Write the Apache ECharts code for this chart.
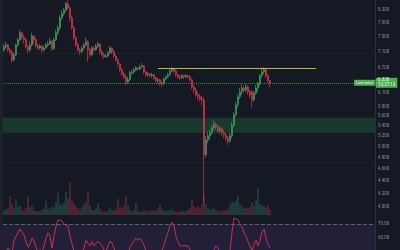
<!DOCTYPE html>
<html><head><meta charset="utf-8">
<script src="https://cdn.jsdelivr.net/npm/echarts@6/dist/echarts.min.js"></script>
<style>html,body{margin:0;padding:0;background:#151924;}#c{width:400px;height:250px;}</style>
</head><body><div id="c"></div>
<script>
// [open, close, low, high]
const ohlc = [
[7.15,7.23,7.10,7.31],[7.23,7.28,7.18,7.37],[7.28,7.15,7.10,7.31],[7.15,7.10,7.02,7.20],[7.10,6.89,6.81,7.15],
[6.89,7.02,6.84,7.07],[7.02,7.28,6.99,7.31],[7.28,7.42,7.23,7.48],[7.42,7.62,7.37,7.70],[7.62,7.48,7.42,7.65],
[7.48,7.42,7.31,7.56],[7.42,7.23,7.18,7.48],[7.23,7.15,7.07,7.28],[7.15,7.28,7.10,7.37],[7.28,7.53,7.23,7.62],
[7.53,7.42,7.31,7.56],[7.42,7.25,7.20,7.48],[7.25,7.20,7.15,7.31],[7.20,7.25,7.15,7.31],[7.25,7.15,7.07,7.28],
[7.15,7.20,7.10,7.25],[7.20,7.28,7.18,7.34],[7.28,7.31,7.23,7.39],[7.31,7.39,7.28,7.48],[7.39,7.18,7.12,7.42],
[7.18,7.42,7.15,7.48],[7.42,7.62,7.39,7.70],[7.62,7.76,7.56,7.84],[7.76,8.05,7.70,8.14],[8.05,8.17,7.99,8.29],
[8.17,8.29,8.11,8.35],[8.29,8.48,8.23,8.54],[8.48,8.35,8.29,8.60],[8.35,8.05,7.93,8.41],[8.05,7.76,7.70,8.11],
[7.76,7.48,7.42,7.81],[7.48,7.28,7.23,7.53],[7.28,7.15,7.10,7.34],[7.15,7.10,7.02,7.20],[7.10,7.20,7.07,7.25],
[7.20,7.28,7.15,7.34],[7.28,7.37,7.25,7.48],[7.37,7.15,6.84,7.42],[7.15,7.02,6.94,7.20],[7.02,7.20,6.99,7.25],
[7.20,7.15,7.10,7.25],[7.15,7.25,7.12,7.31],[7.25,7.31,7.20,7.37],[7.31,7.10,7.04,7.34],[7.10,7.02,6.97,7.15],
[7.02,6.97,6.92,7.07],[6.97,6.99,6.94,7.04],[6.99,7.07,6.97,7.12],[7.07,7.20,7.04,7.25],[7.20,7.10,7.04,7.23],
[7.10,6.99,6.94,7.15],[6.99,6.89,6.84,7.02],[6.89,6.79,6.71,6.94],[6.79,6.64,6.59,6.81],[6.64,6.54,6.50,6.69],
[6.54,6.47,6.42,6.59],[6.47,6.35,6.28,6.52],[6.35,6.40,6.30,6.47],[6.40,6.57,6.38,6.61],[6.57,6.59,6.52,6.64],
[6.59,6.64,6.54,6.69],[6.64,6.69,6.61,6.74],[6.69,6.66,6.61,6.71],[6.66,6.71,6.64,6.76],[6.71,6.74,6.69,6.81],
[6.74,6.59,6.54,6.76],[6.59,6.52,6.47,6.61],[6.52,6.54,6.47,6.59],[6.54,6.50,6.45,6.57],[6.50,6.52,6.45,6.57],
[6.52,6.45,6.40,6.54],[6.45,6.38,6.33,6.47],[6.38,6.40,6.30,6.45],[6.40,6.33,6.26,6.42],[6.33,6.30,6.23,6.38],
[6.30,6.42,6.28,6.45],[6.42,6.47,6.40,6.50],[6.47,6.52,6.45,6.57],[6.52,6.61,6.50,6.66],[6.61,6.66,6.59,6.71],
[6.66,6.61,6.57,6.69],[6.61,6.52,6.47,6.64],[6.52,6.47,6.42,6.54],[6.47,6.45,6.40,6.52],[6.45,6.50,6.42,6.54],
[6.50,6.47,6.42,6.52],[6.47,6.50,6.45,6.54],[6.50,6.47,6.42,6.52],[6.47,6.40,6.35,6.50],[6.40,6.23,6.18,6.42],
[6.23,6.16,6.09,6.28],[6.16,6.05,6.01,6.21],[6.05,6.01,5.94,6.12],[6.01,5.96,5.90,6.07],[5.96,5.94,5.83,6.03],
[5.94,4.85,4.03,6.01],[4.85,5.12,4.80,5.20],[5.12,5.20,5.07,5.28],[5.20,5.26,5.12,5.32],[5.26,5.36,5.22,5.41],
[5.36,5.43,5.32,5.50],[5.43,5.37,5.32,5.47],[5.37,5.30,5.26,5.41],[5.30,5.34,5.24,5.39],[5.34,5.26,5.20,5.37],
[5.26,5.22,5.16,5.32],[5.22,5.16,5.10,5.26],[5.16,5.10,5.03,5.20],[5.10,5.20,5.07,5.26],[5.20,5.41,5.16,5.47],
[5.41,5.62,5.37,5.68],[5.62,5.83,5.58,5.90],[5.83,6.01,5.77,6.07],[6.01,6.12,5.96,6.21],[6.12,6.21,6.05,6.30],
[6.21,6.16,6.09,6.26],[6.16,6.23,6.12,6.30],[6.23,6.12,6.05,6.28],[6.12,6.05,5.98,6.16],[6.12,5.94,5.77,6.16],
[5.94,6.09,5.90,6.14],[6.09,6.21,6.05,6.28],[6.21,6.30,6.12,6.35],[6.30,6.50,6.26,6.54],[6.50,6.59,6.45,6.66],
[6.59,6.64,6.54,6.71],[6.64,6.50,6.45,6.69],[6.50,6.38,6.33,6.54],[6.38,6.33,6.23,6.40]
];
const volumes = [
12,15,20,51,30,18,44,22,25,14,12,18,49,20,24,12,10,9,11,14,
16,38,15,18,22,20,35,60,30,28,34,62,45,89,40,30,22,18,14,20,
30,35,62,25,15,12,18,33,16,10,8,9,12,20,14,11,16,44,22,18,
26,49,24,15,10,14,33,12,9,8,15,11,9,12,10,14,12,18,29,16,
12,10,14,12,16,11,9,8,10,12,9,11,14,18,44,26,20,22,18,30,
56,30,18,14,16,20,12,10,9,12,14,11,16,30,36,33,38,51,30,24,
18,20,16,22,34,26,40,71,30,28,24,20,26,14
];
const rsi = [
48,50,52.4,53,49,58,61,63.4,66.3,65,62,57,53,55.4,59.7,57.5,53,50,51.5,49,
50,59.7,63.4,61,52.4,61,68.5,72.9,74.3,72.2,70,71.4,68.5,61,55.4,50,47,46,47,49,
52.4,58,59,54,57,54,55.4,57.5,56,54,51.5,50,54,57.5,56,52.4,49,47,45,43,
42,40,47,53,55.4,57.5,59.7,58,59.7,60.5,54.6,50,49,47,48,46,44,45,47,48,
54.6,59.7,64,69.2,71.4,68.5,61,57,54,55.4,54,55.4,54,51.5,45,42,38,36,35,34,
22,35,38,41,45,51.5,54,52.4,49,47,45,44,42,50,64,74.3,75.5,72.9,70,67.8,
63.4,61,57,54,50,55.4,58,54,58,64,66.3,59.7,55.4,52.4
];
const priceTicks = [8.3,7.9,7.5,7.1,6.7,6.1,5.8,5.6,5.4,5.2,5.0,4.8,4.6,4.4,4.2,4.0];
const rsiTicks = [70,60,50];
const lastPrice = 6.33;
const lastPriceText = '6.330';
const countdown = '13:27:13';
const lastTag = 'Last price';
const resistance = 6.69;
const resistanceSpan = [77, 156];
const tagEnd = 175;
const zone = [5.26, 5.56];
const faintLevels = [7.07, 4.72];
const totalSlots = 186;
const categories = [];
for (let i = 0; i < totalSlots; i++) categories.push('D' + (i + 1));

const UP = '#3a9e58', DOWN = '#d8304a';
const candleData = ohlc.map(d => {
  const c = d[1] >= d[0] ? UP : DOWN;
  return { value: d, itemStyle: { color: c, color0: c, borderColor: c, borderColor0: c } };
});
const volData = volumes.map((v, i) => ({
  value: v,
  itemStyle: { color: ohlc[i][1] >= ohlc[i][0] ? 'rgba(40,150,120,0.42)' : 'rgba(220,60,80,0.42)' }
}));

const chart = echarts.init(document.getElementById('c'), null, { renderer: 'canvas' });
const lblFont = { color: '#8c909b', fontSize: 4.5, fontFamily: 'Roboto' };
chart.setOption({
  animation: false,
  backgroundColor: '#151924',
  graphic: [{ type: 'rect', shape: { x: 0, y: 0, width: 3, height: 250 }, style: { fill: '#1e222d' }, silent: true }],
  grid: [
    { left: 3, right: 25, top: 0, bottom: 32 },
    { left: 3, right: 25, top: 178, bottom: 35 },
    { left: 3, right: 25, top: 216, bottom: 0 }
  ],
  xAxis: [0, 1, 2].map(g => ({ type: 'category', gridIndex: g, data: categories, show: false, boundaryGap: true })),
  yAxis: [
    { type: 'log', gridIndex: 0, position: 'right', min: 3.837, max: 8.60,
      axisLine: { show: true, lineStyle: { color: '#2a2e39' } }, axisTick: { show: false }, splitLine: { show: false },
      axisLabel: Object.assign({ customValues: priceTicks, formatter: v => Number(v).toFixed(3), margin: 3 }, lblFont) },
    { type: 'value', gridIndex: 1, max: 100, min: 0, show: false, splitLine: { show: false } },
    { type: 'value', gridIndex: 2, position: 'right', min: 51, max: 75.8,
      axisLine: { show: true, lineStyle: { color: '#2a2e39' } }, axisTick: { show: false }, splitLine: { show: false },
      axisLabel: Object.assign({ customValues: rsiTicks, formatter: v => Number(v).toFixed(2), margin: 3 }, lblFont) }
  ],
  series: [
    { type: 'candlestick', xAxisIndex: 0, yAxisIndex: 0, data: candleData, barWidth: 1.4,
      itemStyle: { color: UP, color0: DOWN, borderColor: UP, borderColor0: DOWN, borderWidth: 0.7 },
      markArea: { silent: true, itemStyle: { color: 'rgba(41,132,66,0.3)' },
        data: [[{ yAxis: zone[0] }, { yAxis: zone[1] }]] },
      markLine: { silent: true, symbol: ['none', 'none'], animation: false,
        data: [
          [{ coord: [resistanceSpan[0], resistance], lineStyle: { color: '#c8bb22', width: 1, type: 'solid' }, label: { show: false } },
           { coord: [resistanceSpan[1], resistance] }],
          [{ coord: [0, lastPrice], lineStyle: { color: '#2f8a4c', width: 1, type: 'dotted' },
             label: { show: true, position: 'end', distance: 0, formatter: lastTag, backgroundColor: '#4caf50',
                      color: '#e8f5e9', fontSize: 4, padding: [1, 2], fontFamily: 'Roboto' } },
           { coord: [tagEnd, lastPrice] }],
          { yAxis: lastPrice, lineStyle: { color: 'rgba(0,0,0,0)', width: 0 },
            label: { show: true, position: 'end', distance: 1, formatter: lastPriceText + '\n' + countdown,
                     backgroundColor: '#4caf50', color: '#eef8ee', fontSize: 4.5, lineHeight: 5, padding: [0, 2], fontFamily: 'Roboto' } },
          { yAxis: faintLevels[0], lineStyle: { color: 'rgba(120,130,150,0.15)', type: 'dotted', width: 1 }, label: { show: false } },
          { yAxis: faintLevels[1], lineStyle: { color: 'rgba(120,130,150,0.15)', type: 'dotted', width: 1 }, label: { show: false } }
        ] } },
    { type: 'bar', xAxisIndex: 1, yAxisIndex: 1, data: volData, barWidth: '70%' },
    { type: 'line', xAxisIndex: 2, yAxisIndex: 2, data: rsi, showSymbol: false, lineStyle: { color: '#cf2f4c', width: 1 },
      markArea: { silent: true, itemStyle: { color: 'rgba(126,87,194,0.13)' }, data: [[{ yAxis: 30 }, { yAxis: 70 }]] },
      markLine: { silent: true, symbol: ['none', 'none'], label: { show: false },
        data: [{ yAxis: 70, lineStyle: { color: '#5d606b', type: 'dashed', width: 1 } }] } }
  ]
});
</script></body></html>
